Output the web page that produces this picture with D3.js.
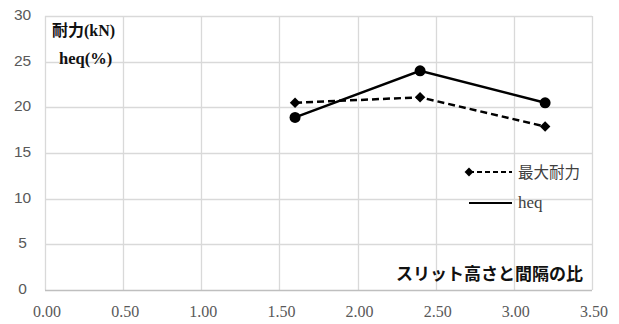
<!DOCTYPE html>
<html><head><meta charset="utf-8">
<script src="https://cdn.jsdelivr.net/npm/d3@7"></script>
<style>body{margin:0;background:#fff}
.serif{font-family:"Liberation Serif","Times New Roman","DejaVu Serif",serif}
</style>
</head><body>
<svg id="c" width="619" height="324"></svg>
<script>
const xValues = [1.6, 2.4, 3.2];
const maxStrength = [20.5, 21.1, 17.9];
const heq = [18.9, 24.0, 20.5];
const xTicks = [0, 0.5, 1, 1.5, 2, 2.5, 3, 3.5];
const yTicks = [0, 5, 10, 15, 20, 25, 30];
const seriesNames = ["最大耐力", "heq"];
const yTitle1 = "耐力(kN)";
const yTitle2 = "heq(%)";
const xTitle = "スリット高さと間隔の比";

const svg = d3.select("#c");
const x = d3.scaleLinear().domain([0, 3.5]).range([45, 592]);
const y = d3.scaleLinear().domain([0, 30]).range([290, 16]);

// grid
svg.append("g").selectAll("line.h").data(yTicks.slice(1)).join("line")
  .attr("x1", x(0)).attr("x2", x(3.5)).attr("y1", d => Math.round(y(d)) + 0.5).attr("y2", d => Math.round(y(d)) + 0.5)
  .attr("stroke", "#d9d9d9").attr("stroke-width", 1.3);
svg.append("g").selectAll("line.v").data(xTicks).join("line")
  .attr("y1", y(0)).attr("y2", y(30)).attr("x1", d => Math.round(x(d)) + 0.5).attr("x2", d => Math.round(x(d)) + 0.5)
  .attr("stroke", "#d9d9d9").attr("stroke-width", 1.3);
// x axis line
svg.append("line").attr("x1", x(0)).attr("x2", x(3.5)).attr("y1", Math.round(y(0)) + 0.5).attr("y2", Math.round(y(0)) + 0.5)
  .attr("stroke", "#bfbfbf").attr("stroke-width", 1.3);

// tick labels
svg.append("g").selectAll("text").data(yTicks).join("text")
  .attr("x", 22.5).attr("y", d => y(d) + 4).attr("text-anchor", "middle")
  .attr("font-family", "Liberation Sans, sans-serif").attr("font-size", 15.5).attr("fill", "#595959")
  .text(d => d);
svg.append("g").selectAll("text").data(xTicks).join("text")
  .attr("class", "serif")
  .attr("x", d => x(d) + 2).attr("y", 317).attr("text-anchor", "middle")
  .attr("font-size", 16).attr("fill", "#595959")
  .text(d => d3.format(".2f")(d));

// lines
const line = d3.line().x(d => x(d[0])).y(d => y(d[1]));
const ptsMax = xValues.map((v, i) => [v, maxStrength[i]]);
const ptsHeq = xValues.map((v, i) => [v, heq[i]]);
svg.append("path").datum(ptsMax).attr("d", line).attr("fill", "none")
  .attr("stroke", "#000").attr("stroke-width", 2.5).attr("stroke-dasharray", "7,4");
svg.append("path").datum(ptsHeq).attr("d", line).attr("fill", "none")
  .attr("stroke", "#000").attr("stroke-width", 2.5);
const diamond = d3.symbol().type(d3.symbolDiamond2).size(70);
svg.append("g").selectAll("path").data(ptsMax).join("path")
  .attr("transform", d => `translate(${x(d[0])},${y(d[1])})`).attr("d", diamond).attr("fill", "#000");
svg.append("g").selectAll("circle").data(ptsHeq).join("circle")
  .attr("cx", d => x(d[0])).attr("cy", d => y(d[1])).attr("r", 5.5).attr("fill", "#000");

// legend
const lg = svg.append("g");
lg.append("line").attr("x1", 469).attr("x2", 512).attr("y1", 172).attr("y2", 172)
  .attr("stroke", "#000").attr("stroke-width", 2.2).attr("stroke-dasharray", "5,3");
lg.append("path").attr("transform", "translate(469,172)").attr("d", d3.symbol().type(d3.symbolDiamond2).size(50)).attr("fill", "#000");
lg.append("line").attr("x1", 469).attr("x2", 512).attr("y1", 203).attr("y2", 203)
  .attr("stroke", "#000").attr("stroke-width", 2.2);
lg.append("text").attr("x", 518).attr("y", 178).attr("font-family", "Noto Sans CJK JP").attr("font-size", 15.5).attr("fill", "#404040").text(seriesNames[0]);
lg.append("text").attr("class", "serif").attr("x", 518).attr("y", 208).attr("font-size", 17).attr("fill", "#404040").text(seriesNames[1]);

// titles
svg.append("text").attr("x", 52).attr("y", 36).style("font-family", "'Liberation Serif','Noto Sans CJK JP',serif").attr("font-weight", "bold").attr("font-size", 16).attr("fill", "#111").text(yTitle1);
svg.append("text").attr("class", "serif").attr("x", 59).attr("y", 64).attr("font-weight", "bold").attr("font-size", 16.5).attr("fill", "#111").text(yTitle2);
svg.append("text").attr("x", 583).attr("y", 280).attr("text-anchor", "end").attr("font-family", "Noto Sans CJK JP").attr("font-weight", "bold").attr("font-size", 17).attr("fill", "#111").text(xTitle);
</script>
</body></html>
